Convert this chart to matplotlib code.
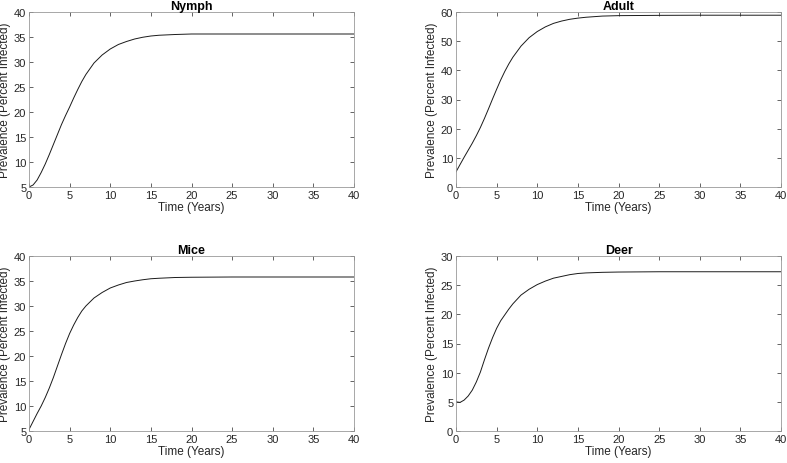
import matplotlib
matplotlib.use("Agg")
import matplotlib.pyplot as plt

plt.rcParams['font.family'] = ['Liberation Sans', 'DejaVu Sans']

# time points (years)
t = [0, 0.5, 1, 1.5, 2, 2.5, 3, 3.5, 4, 4.5, 5, 5.5, 6, 6.5, 7, 8, 9, 10, 11, 12, 13, 14, 15, 16,
     18, 20, 25, 30, 35, 40]

nymph = [5.0, 5.4, 6.4, 7.9, 9.6, 11.5, 13.5, 15.5, 17.5, 19.3, 21.0, 22.8, 24.5, 26.1, 27.5,
         29.8, 31.4, 32.6, 33.5, 34.1, 34.6, 34.95, 35.2, 35.35, 35.5, 35.6, 35.6, 35.6, 35.6, 35.6]
adult = [5.2, 7.7, 10.2, 12.6, 15.0, 17.6, 20.4, 23.5, 26.8, 30.2, 33.5, 36.7, 39.6, 42.2, 44.5,
         48.3, 51.2, 53.3, 54.9, 56.1, 56.9, 57.5, 57.9, 58.2, 58.6, 58.75, 58.85, 58.9, 58.9, 58.9]
mice = [5.3, 6.9, 8.5, 10.0, 11.7, 13.6, 15.7, 18.0, 20.3, 22.5, 24.5, 26.2, 27.7, 29.0, 30.0,
        31.6, 32.7, 33.6, 34.2, 34.7, 35.0, 35.25, 35.45, 35.55, 35.7, 35.75, 35.8, 35.8, 35.8, 35.8]
deer = [5.0, 4.9, 5.3, 6.0, 7.0, 8.4, 10.1, 12.2, 14.2, 16.0, 17.6, 18.9, 19.9, 20.9, 21.8,
        23.3, 24.3, 25.1, 25.7, 26.2, 26.5, 26.8, 27.0, 27.1, 27.2, 27.25, 27.3, 27.3, 27.3, 27.3]

panels = [
    ("Nymph", nymph, (5, 40), range(5, 41, 5)),
    ("Adult", adult, (0, 60), range(0, 61, 10)),
    ("Mice", mice, (5, 40), range(5, 41, 5)),
    ("Deer", deer, (0, 30), range(0, 31, 5)),
]

# axes boxes in figure pixels: left, top, right, bottom
W, H = 787, 464
boxes = [(29, 13, 354, 188), (456, 13, 781, 188), (29, 257, 354, 432), (456, 257, 781, 432)]

fig = plt.figure(figsize=(W / 100, H / 100), dpi=100)
for (name, vals, ylim, yt), (l, tp, r, b) in zip(panels, boxes):
    ax = fig.add_axes([l / W, 1 - b / H, (r - l) / W, (b - tp) / H])
    ax.plot(t, vals, color='#1a1a1a', linewidth=0.7)
    ax.set_xlim(0, 40)
    ax.set_ylim(*ylim)
    ax.set_xticks(range(0, 41, 5))
    ax.set_yticks(list(yt))
    ax.tick_params(direction='in', length=3, width=0.5, labelsize=8, colors='#262626',
                   top=True, right=True, pad=2)
    for s in ax.spines.values():
        s.set_linewidth(0.6)
        s.set_color('#999999')
    ax.set_title(name, fontsize=9, fontweight='bold', pad=2)
    ax.set_xlabel('Time (Years)', fontsize=8.5, color='#262626', labelpad=1)
    ax.set_ylabel('Prevalence (Percent Infected)', fontsize=8.5, color='#262626', labelpad=2)

fig.savefig("out.png", dpi=100)
